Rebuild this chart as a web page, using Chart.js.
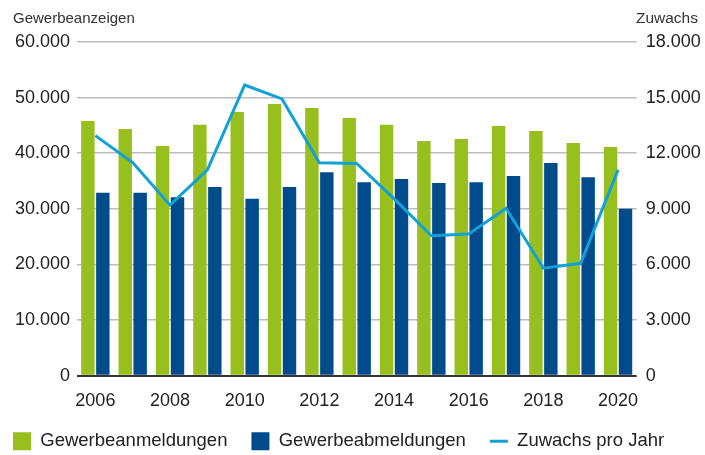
<!DOCTYPE html>
<html lang="de">
<head>
<meta charset="utf-8">
<script src="https://cdn.jsdelivr.net/npm/chart.js@4.4.1/dist/chart.umd.min.js"></script>
<style>
    html, body { margin: 0; padding: 0; background: #fff; }
    .wrap { position: relative; width: 705px; height: 455px; }
    .axis-title {
        position: absolute; top: 10px;
        font: 15px "Liberation Sans", Arial, sans-serif; line-height: 15px;
        color: #333;
    }
</style>
</head>
<body>
<div class="wrap">
    <canvas id="chart" width="705" height="455"></canvas>
    <div class="axis-title" style="left:13px;">Gewerbeanzeigen</div>
    <div class="axis-title" style="right:7px; font-size:15.5px;">Zuwachs</div>
</div>
<script>
/* ── Daten ─────────────────────────────────────────────────── */

const years       = ["2006", "2007", "2008", "2009", "2010", "2011", "2012", "2013",
                     "2014", "2015", "2016", "2017", "2018", "2019", "2020"];
const anmeldungen = [45800, 44350, 41300, 45100, 47400, 48850, 48150, 46350,
                     45100, 42200, 42550, 44900, 44000, 41850, 41100];
const abmeldungen = [32900, 32900, 32100, 33950, 31800, 33950, 36600, 34800,
                     35350, 34650, 34800, 35900, 38250, 35700, 30000];
const zuwachs     = [12950, 11500, 9200, 11100, 15680, 14930, 11490, 11450,
                     9550, 7550, 7640, 9030, 5800, 6060, 11100];

const GREEN = "#97bf1e";
const NAVY  = "#004b8c";
const CYAN  = "#12a1d6";

/* ── Utilitaires ───────────────────────────────────────────── */

function formatDe(value) {
    return String(value).replace(/\B(?=(\d{3})+(?!\d))/g, ".");
}

const FONT = "'Liberation Sans', Arial, sans-serif";

// légende : hauteur fixe et départ à gauche
const legendLayout = {
    id: "legendLayout",
    beforeInit(chart) {
        const fit = chart.legend.fit;
        chart.legend.fit = function () {
            fit.call(this);
            this.height = 47;
        };
    },
    afterLayout(chart) {
        chart.legend.left  -= 11;
        chart.legend.right -= 11;
    },
};

new Chart(document.getElementById("chart").getContext("2d"), {
    type: "bar",
    data: {
        labels: years,
        datasets: [
            {
                label: "Gewerbeanmeldungen",
                data: anmeldungen,
                backgroundColor: GREEN,
                pointStyle: "rect",
                yAxisID: "y",
                order: 1,
            },
            {
                label: "Gewerbeabmeldungen",
                data: abmeldungen,
                backgroundColor: NAVY,
                pointStyle: "rect",
                yAxisID: "y",
                order: 1,
            },
            {
                type: "line",
                label: "Zuwachs pro Jahr",
                data: zuwachs,
                borderColor: CYAN,
                backgroundColor: CYAN,
                borderWidth: 3,
                pointRadius: 0,
                pointStyle: "line",
                tension: 0,
                yAxisID: "y1",
                order: 0,
            },
        ],
    },
    options: {
        responsive: false,
        animation: false,
        layout: { padding: { top: 42, left: 0, right: 0, bottom: 0 } },
        scales: {
            x: {
                grid:   { display: false },
                border: { display: false },
                ticks: {
                    color: "#222",
                    font: { size: 18, family: FONT },
                    padding: 7,
                    autoSkip: false,
                    maxRotation: 0,
                    callback: (v, i) => (i % 2 === 0 ? years[i] : ""),
                },
                afterFit: (s) => { s.height = 32.3; },
            },
            y: {
                position: "left",
                min: 0, max: 60000,
                border: { display: false },
                grid: {
                    drawTicks: false,
                    color: (c) => (c.tick.value === 0 ? "#333" : "#bdbdbd"),
                    lineWidth: (c) => (c.tick.value === 0 ? 2 : 1.5),
                },
                ticks: {
                    stepSize: 10000,
                    color: "#222",
                    font: { size: 18, family: FONT },
                    padding: 6.7,
                    callback: (v) => formatDe(v),
                },
                afterFit: (s) => { s.width = 76.7; },
            },
            y1: {
                position: "right",
                min: 0, max: 18000,
                border: { display: false },
                grid: { display: false, drawTicks: false },
                ticks: {
                    stepSize: 3000,
                    color: "#222",
                    font: { size: 18, family: FONT },
                    padding: 9,
                    callback: (v) => formatDe(v),
                },
                afterFit: (s) => { s.width = 68.3; },
            },
        },
        plugins: {
            tooltip: { enabled: false },
            legend: {
                position: "bottom",
                align: "start",
                labels: {
                    usePointStyle: true,
                    pointStyleWidth: 18,
                    boxHeight: 18,
                    padding: 24,
                    color: "#222",
                    font: { size: 18.5, family: FONT },
                    sort: (a, b) => a.datasetIndex - b.datasetIndex,
                },
            },
        },
    },
    plugins: [legendLayout],
});
</script>
</body>
</html>
